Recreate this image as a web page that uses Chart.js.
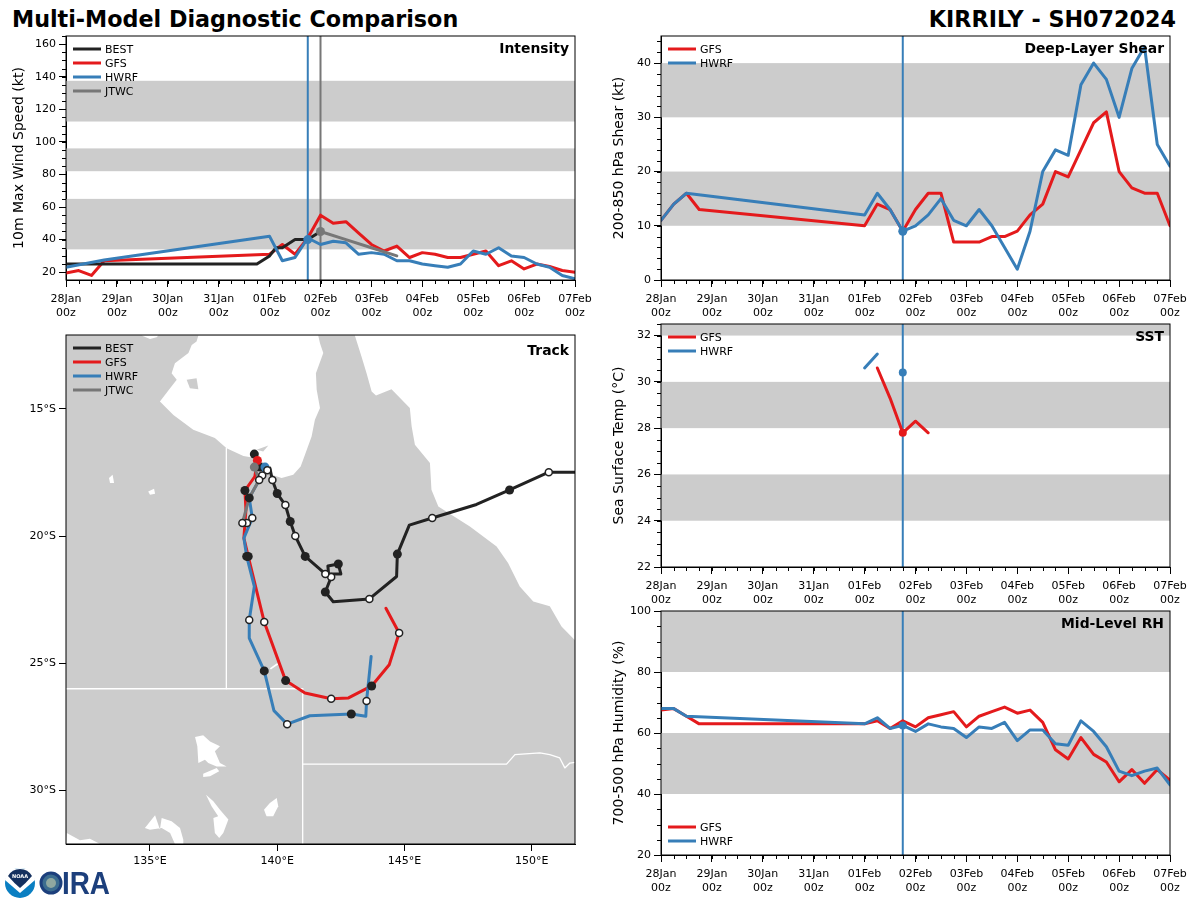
<!DOCTYPE html>
<html>
<head>
<meta charset="utf-8">
<title>Multi-Model Diagnostic Comparison</title>
<script src="https://cdn.jsdelivr.net/npm/chart.js@4"></script>
<style>
  body { margin: 0; background: #fff; width: 1200px; height: 900px; overflow: hidden; position: relative; font-family: "DejaVu Sans", sans-serif; }
  canvas { position: absolute; }
  .main-title { position: absolute; top: 6px; font-size: 22.25px; font-weight: bold; color: #000; white-space: nowrap; }
  #logo { position: absolute; left: 4px; top: 866px; }
</style>
</head>
<body>
<div class="main-title" style="left:12px">Multi-Model Diagnostic Comparison</div>
<div class="main-title" style="right:24px">KIRRILY - SH072024</div>

<canvas id="intensity-chart"></canvas>
<canvas id="shear-chart"></canvas>
<canvas id="track-chart"></canvas>
<canvas id="sst-chart"></canvas>
<canvas id="rh-chart"></canvas>

<svg id="logo" width="110" height="34" viewBox="0 0 110 34">
  <circle cx="16" cy="17" r="15" fill="#0a7fc2"/>
  <path d="M1 14 Q9 21 16 27 Q23 21 31 14 Q31 2 16 2 Q1 2 1 14Z" fill="#fff"/>
  <path d="M4 10 Q10 17 16 22 Q22 17 28 10 Q24 3 16 3 Q8 3 4 10Z" fill="#14305f"/>
  <text x="16" y="12" font-size="5" font-weight="bold" fill="#fff" text-anchor="middle">NOAA</text>
  <circle cx="47" cy="17" r="10" fill="#3c6d8f" stroke="#1c3f7c" stroke-width="3"/>
  <circle cx="47" cy="17" r="5" fill="#8fa8a0"/>
  <text x="58" y="28" font-family="Liberation Sans" font-size="31" font-weight="bold" fill="#1c3f7c" textLength="48" lengthAdjust="spacingAndGlyphs">IRA</text>
</svg>

<script>
// Time axis tick labels, one per day
const dayLabels = ["28Jan", "29Jan", "30Jan", "31Jan", "01Feb", "02Feb", "03Feb", "04Feb", "05Feb", "06Feb", "07Feb"];
const lonTicks = [135, 140, 145, 150];
const latTicks = [-30, -25, -20, -15];

// Intensity (hours since 28Jan 00z, knots)
const bestWindHours = [0, 90, 96, 99, 102, 108, 114, 120];
const bestWind = [25, 25, 30, 35, 35, 40, 40, 45];
const gfsWindHours = [0, 6, 12, 18, 96, 102, 108, 114, 120, 126, 132, 138, 144, 150, 156, 162, 168, 174, 180, 186, 192, 198, 204, 210, 216, 222, 228, 234, 240];
const gfsWind = [19.5, 21, 18, 27, 31, 37, 31, 41, 55, 50, 51, 44, 37, 33, 36, 29, 32, 31, 29, 29, 31, 33, 24, 27, 22, 25, 23.5, 21, 20];
const hwrfWindHours = [0, 18, 96, 102, 108, 114, 120, 126, 132, 138, 144, 150, 156, 162, 168, 174, 180, 186, 192, 198, 204, 210, 216, 222, 228, 234, 240];
const hwrfWind = [23, 27.5, 42, 27, 29, 41, 37, 39, 38, 31, 32, 31, 27, 27, 25, 24, 23, 25, 33, 31, 35, 30, 29, 25, 23, 18, 16];
const jtwcWindHours = [120, 132, 144, 156];
const jtwcWind = [45, 40, 35, 30];
const intensityBands = [[34, 65], [82, 96], [112.5, 137.5]];

// Deep-layer shear
const gfsShearHours = [0, 6, 12, 18, 96, 102, 108, 114, 120, 126, 132, 138, 144, 150, 156, 162, 168, 174, 180, 186, 192, 198, 204, 210, 216, 222, 228, 234, 240];
const gfsShear = [11, 14, 16, 13, 10, 14, 13, 9, 13, 16, 16, 7, 7, 7, 8, 8, 9, 12, 14, 20, 19, 24, 29, 31, 20, 17, 16, 16, 10];
const hwrfShearHours = [0, 6, 12, 96, 102, 108, 114, 120, 126, 132, 138, 144, 150, 156, 162, 168, 174, 180, 186, 192, 198, 204, 210, 216, 222, 228, 234, 240];
const hwrfShear = [11, 14, 16, 12, 16, 13, 9, 10, 12, 15, 11, 10, 13, 10, 6, 2, 9, 20, 24, 23, 36, 40, 37, 30, 39, 43, 25, 21];
const shearBands = [[10, 20], [30, 40]];

// Sea surface temperature
const gfsSstHours = [102, 108, 114, 120, 126];
const gfsSst = [30.6, 29.3, 27.8, 28.3, 27.8];
const hwrfSstHours = [96, 102];
const hwrfSst = [30.6, 31.2];
const sstBands = [[24, 26], [28, 30], [32, 33]];

// Mid-level relative humidity
const gfsRhHours = [0, 6, 12, 18, 96, 102, 108, 114, 120, 126, 132, 138, 144, 150, 156, 162, 168, 174, 180, 186, 192, 198, 204, 210, 216, 222, 228, 234, 240];
const gfsRh = [67.5, 68, 65.5, 63, 63, 64, 61.5, 64, 62, 65, 66, 67, 62, 65.5, 67, 68.5, 66.5, 67.5, 63.5, 54.5, 51.5, 58.5, 53, 50.5, 44, 48, 43.5, 48, 44.5];
const hwrfRhHours = [0, 6, 12, 96, 102, 108, 114, 120, 126, 132, 138, 144, 150, 156, 162, 168, 174, 180, 186, 192, 198, 204, 210, 216, 222, 228, 234, 240];
const hwrfRh = [68, 68, 65.5, 63, 65, 61.5, 62.5, 60.5, 63, 62, 61.5, 58.5, 62, 61.5, 63.5, 57.5, 61, 61, 56.5, 56, 64, 60.5, 55.5, 47.5, 46, 47.5, 48.5, 43];
const rhBands = [[40, 60], [80, 100]];

// Track paths (degrees)
const bestLon = [151.7, 150.67, 149.13, 147.83, 146.09, 145.19, 144.72, 144.69, 143.62, 142.2, 141.89, 142.12, 142.07, 142.5, 142.4, 141.99, 142.02, 141.89, 141.1, 140.71, 140.51, 140.32, 140.0, 139.81, 139.71, 139.61, 139.32, 139.1];
const bestLat = [-17.49, -17.49, -18.19, -18.76, -19.29, -19.57, -20.71, -21.59, -22.47, -22.58, -22.2, -21.61, -21.49, -21.49, -21.1, -21.18, -21.52, -21.49, -20.8, -20.0, -19.43, -18.78, -18.33, -17.8, -17.33, -17.41, -17.29, -16.78];
const gfsLon = [139.22, 139.12, 138.73, 138.77, 138.69, 138.86, 139.49, 140.33, 141.09, 142.12, 142.8, 143.71, 144.4, 144.79, 144.27];
const gfsLat = [-17.03, -17.66, -18.21, -18.97, -20.08, -20.8, -23.38, -25.68, -26.17, -26.39, -26.36, -25.89, -25.06, -23.81, -22.84];
const hwrfLon = [139.52, 139.41, 139.29, 138.9, 139.02, 138.69, 138.8, 139.1, 138.9, 138.9, 139.49, 139.87, 140.39, 141.28, 142.91, 143.48, 143.51, 143.69];
const hwrfLat = [-17.29, -17.62, -17.8, -18.5, -19.29, -20.08, -20.8, -21.98, -23.3, -24.01, -25.3, -26.86, -27.39, -27.06, -26.99, -27.08, -26.48, -24.73];
const jtwcLon = [139.1, 139.29, 138.9, 138.63];
const jtwcLat = [-17.29, -17.8, -18.5, -19.49];

// Track position markers (12-hourly, alternating dark and open)
const darkFixLon = [149.13, 144.72, 141.89, 142.4, 141.1, 140.51, 140.0, 139.32, 139.1, 138.73, 138.9, 138.86, 138.8, 140.33, 143.71, 139.49, 142.91];
const darkFixLat = [-18.19, -20.71, -22.2, -21.1, -20.8, -19.43, -18.33, -17.29, -16.78, -18.21, -18.5, -20.8, -20.8, -25.68, -25.89, -25.3, -26.99];
const openFixLon = [150.67, 146.09, 143.62, 142.12, 141.89, 140.71, 140.32, 139.81, 139.61, 139.41, 139.29, 138.81, 139.02, 138.63, 139.49, 138.9, 142.12, 144.79, 140.39, 143.51];
const openFixLat = [-17.49, -19.29, -22.47, -21.61, -21.49, -20.0, -18.78, -17.8, -17.41, -17.62, -17.8, -19.49, -19.29, -19.49, -23.38, -23.3, -26.39, -23.81, -27.39, -26.48];

// Map base: sea and lakes are white shapes laid over grey land
const gulfOutline = [[136.9, -12.12], [136.83, -12.36], [136.64, -12.49], [136.51, -12.81], [135.98, -13.21], [135.85, -13.6], [136.05, -13.86], [135.79, -14.19], [135.39, -14.71], [135.92, -15.24], [136.7, -15.82], [137.55, -16.15], [138.01, -16.55], [138.67, -16.85], [139.19, -16.94], [139.58, -17.2], [139.78, -17.59], [140.17, -17.72], [140.63, -17.59], [140.92, -17.27], [141.09, -16.81], [141.35, -16.09], [141.48, -15.43], [141.68, -14.97], [141.55, -14.25], [141.52, -13.6], [141.81, -12.81], [141.68, -12.42], [141.61, -12.12]];
const topBayOutline = [[134.67, -12.12], [135.0, -12.26], [135.26, -12.19], [135.33, -12.12]];
const coralSeaOutline = [[143.05, -12.12], [143.31, -12.94], [143.51, -13.6], [143.71, -14.32], [143.88, -14.48], [144.49, -14.23], [145.21, -14.97], [145.28, -15.69], [145.41, -16.41], [146.0, -17.13], [146.06, -18.18], [146.33, -18.84], [147.57, -19.62], [148.62, -20.41], [149.07, -21.06], [149.53, -21.98], [150.06, -22.57], [150.71, -22.76], [151.17, -23.55], [151.71, -24.1], [151.71, -12.12]];
const southCoastOutline = [[131.73, -31.67], [132.25, -31.95], [132.64, -31.89], [133.04, -32.1], [131.7, -32.1]];
const lakeOutlines = [
  [[136.77, -27.9], [137.09, -27.83], [137.36, -28.07], [137.75, -28.26], [137.55, -28.46], [137.75, -28.92], [138.01, -29.05], [137.62, -29.05], [137.29, -28.92], [137.16, -28.79], [136.9, -28.92], [136.86, -28.26]],
  [[137.09, -29.34], [137.62, -29.11], [137.72, -29.24], [137.36, -29.44], [137.09, -29.47]],
  [[137.2, -30.16], [137.49, -30.42], [137.75, -30.75], [138.08, -31.14], [137.88, -31.67], [137.72, -31.86], [137.55, -31.67], [137.49, -31.08], [137.68, -31.01], [137.42, -30.62]],
  [[139.98, -30.29], [140.04, -30.62], [139.84, -31.01], [139.58, -31.01], [139.48, -30.75], [139.71, -30.49]],
  [[134.8, -31.47], [135.2, -30.97], [135.39, -31.53], [135.46, -31.08], [135.85, -31.21], [136.18, -31.47], [136.31, -31.93], [136.31, -32.1], [135.98, -32.1], [135.79, -31.67], [135.46, -31.47], [135.0, -31.54]],
  [[133.39, -17.72], [133.53, -17.59], [133.59, -17.92], [133.43, -17.92]],
  [[134.93, -18.25], [135.16, -18.14], [135.2, -18.34], [135.0, -18.38]],
  [[139.71, -25.19], [140.0, -24.99], [140.04, -25.05], [139.75, -25.24]]
];
const islandOutlines = [
  [[136.44, -13.86], [136.83, -13.8], [136.9, -14.23], [136.57, -14.19]],
  [[139.19, -16.61], [139.65, -16.44], [139.45, -16.68]]
];
const stateBorders = [
  [[138.0, -16.55], [138.0, -26.0]],
  [[131.7, -26.0], [141.0, -26.0]],
  [[141.0, -26.0], [141.0, -32.1]],
  [[141.0, -28.96], [149.01, -28.96], [149.34, -28.59], [150.32, -28.52], [150.71, -28.59], [151.1, -28.72], [151.3, -29.11], [151.5, -28.92], [151.71, -28.89]]
];

const RED = "#e41a1c", BLUE = "#377eb8", BLACK = "#222222", GREY = "#777777", BAND = "#cccccc";

Chart.defaults.font.family = '"DejaVu Sans", sans-serif';
Chart.defaults.font.size = 11;
Chart.defaults.color = "#000";

function toPoints(xs, ys) {
    return xs.map((x, i) => ({ x: x, y: ys[i] }));
}

function pairsToPoints(pairs) {
    return pairs.map(p => ({ x: p[0], y: p[1] }));
}

function lineSet(label, color, data, width) {
    return { label: label, data: data, showLine: true, borderColor: color, backgroundColor: color, borderWidth: width || 3, pointRadius: 0, borderJoinStyle: "round", borderCapStyle: "round", tension: 0 };
}

function dotSet(color, data, radius, edge) {
    return { data: data, showLine: false, backgroundColor: color, borderColor: edge || color, borderWidth: edge ? 1.5 : 0, pointRadius: radius || 4.5 };
}

// Bands, minor ticks, frame, panel title and inset legend
const panelDecor = {
    id: "panelDecor",
    beforeDatasetsDraw(chart, args, opts) {
        const { ctx, chartArea: a, scales } = chart;
        ctx.save();
        ctx.beginPath();
        ctx.rect(a.left, a.top, a.right - a.left, a.bottom - a.top);
        ctx.clip();
        ctx.fillStyle = BAND;
        (opts.bands || []).forEach(b => {
            const top = scales.y.getPixelForValue(b[1]);
            const bottom = scales.y.getPixelForValue(b[0]);
            ctx.fillRect(a.left, top, a.right - a.left, bottom - top);
        });
        if (opts.map) {
            ctx.fillRect(a.left, a.top, a.right - a.left, a.bottom - a.top);
            const fillShape = (shape, color) => {
                ctx.fillStyle = color;
                ctx.beginPath();
                shape.forEach((p, i) => {
                    const px = scales.x.getPixelForValue(p[0]);
                    const py = scales.y.getPixelForValue(p[1]);
                    if (i === 0) ctx.moveTo(px, py); else ctx.lineTo(px, py);
                });
                ctx.closePath();
                ctx.fill();
            };
            [gulfOutline, topBayOutline, coralSeaOutline, southCoastOutline].concat(lakeOutlines).forEach(s => fillShape(s, "#fff"));
            islandOutlines.forEach(s => fillShape(s, BAND));
        }
        ctx.restore();
    },
    afterDatasetsDraw(chart, args, opts) {
        const { ctx, chartArea: a, scales } = chart;
        ctx.save();
        ctx.strokeStyle = "#000";
        ctx.lineWidth = 1;
        ctx.strokeRect(a.left, a.top, a.right - a.left, a.bottom - a.top);

        ctx.beginPath();
        if (opts.minorX) {
            for (let v = scales.x.min; v <= scales.x.max; v += opts.minorX) {
                const px = Math.round(scales.x.getPixelForValue(v)) + 0.5;
                ctx.moveTo(px, a.bottom);
                ctx.lineTo(px, a.bottom + 4);
            }
        }
        if (opts.minorY) {
            const start = Math.ceil(scales.y.min / opts.minorY) * opts.minorY;
            for (let v = start; v <= scales.y.max; v += opts.minorY) {
                const py = Math.round(scales.y.getPixelForValue(v)) + 0.5;
                ctx.moveTo(a.left, py);
                ctx.lineTo(a.left - 4, py);
            }
        }
        ctx.stroke();

        ctx.fillStyle = "#000";
        ctx.font = 'bold 13.9px "DejaVu Sans"';
        ctx.textAlign = "right";
        ctx.textBaseline = "middle";
        ctx.fillText(opts.title, a.right - 6, a.top + opts.titleY + 1);

        ctx.font = '11px "DejaVu Sans"';
        ctx.textAlign = "left";
        (opts.legend || []).forEach((item, i) => {
            const y = a.top + opts.legendY + i * 14;
            ctx.strokeStyle = item.color;
            ctx.lineWidth = 3;
            ctx.beginPath();
            ctx.moveTo(a.left + 7, y);
            ctx.lineTo(a.left + 35, y);
            ctx.stroke();
            ctx.fillStyle = "#000";
            ctx.fillText(item.label, a.left + 39, y + 1);
        });
        ctx.restore();
    }
};

function buildPanel(id, area, yLabel, yRange, yStep, xAxis, datasets, decor) {
    const canvas = document.getElementById(id);
    const canvasLeft = area.left < 600 ? 0 : 600;
    const padTop = 16, xAxisHeight = 52;
    canvas.width = 600;
    canvas.height = area.bottom - area.top + padTop + xAxisHeight;
    canvas.style.left = canvasLeft + "px";
    canvas.style.top = (area.top - padTop) + "px";

    const axisLines = {
        display: true, drawOnChartArea: false, drawTicks: true, tickLength: 7, tickColor: "#000", color: "#000"
    };

    return new Chart(canvas, {
        type: "scatter",
        data: { datasets: datasets.slice().reverse() },
        plugins: [panelDecor],
        options: {
            responsive: false,
            animation: false,
            layout: { padding: { top: padTop, right: canvasLeft + 600 - area.right, left: 0, bottom: 0 } },
            plugins: { legend: { display: false }, tooltip: { enabled: false }, panelDecor: decor },
            scales: {
                x: Object.assign({
                    type: "linear",
                    grid: axisLines,
                    border: { display: true, color: "#000", width: 1 },
                    afterFit(scale) { scale.height = xAxisHeight; }
                }, xAxis),
                y: {
                    type: "linear",
                    min: yRange[0],
                    max: yRange[1],
                    grid: axisLines,
                    border: { display: true, color: "#000", width: 1 },
                    afterBuildTicks(scale) {
                        if (yLabel.tickValues) scale.ticks = yLabel.tickValues.map(v => ({ value: v }));
                    },
                    ticks: {
                        stepSize: yStep,
                        includeBounds: false,
                        padding: 3,
                        callback: yLabel.tickFormat || (v => String(v))
                    },
                    title: { display: !!yLabel.text, text: yLabel.text, font: { size: 14 }, padding: { top: 11, bottom: 0 }, color: "#000" },
                    afterFit(scale) { scale.width = area.left - canvasLeft; }
                }
            }
        }
    });
}

const timeAxis = {
    min: 0,
    max: 240,
    ticks: {
        stepSize: 24,
        includeBounds: false,
        autoSkip: false,
        maxRotation: 0,
        padding: 5,
        font: { size: 11, lineHeight: 1.3 },
        callback: v => [dayLabels[v / 24], "00z"]
    }
};

function verticalMark(color, hour, range) {
    return lineSet("", color, toPoints([hour, hour], range), 2);
}

buildPanel("intensity-chart", { left: 66, top: 36, right: 575, bottom: 280 },
    { text: "10m Max Wind Speed (kt)" }, [15.2, 165], 20, timeAxis, [
        verticalMark(BLUE, 114, [15.2, 165]),
        verticalMark(GREY, 120, [15.2, 165]),
        lineSet("GFS", RED, toPoints(gfsWindHours, gfsWind)),
        lineSet("BEST", BLACK, toPoints(bestWindHours, bestWind)),
        lineSet("HWRF", BLUE, toPoints(hwrfWindHours, hwrfWind)),
        lineSet("JTWC", GREY, toPoints(jtwcWindHours, jtwcWind)),
        dotSet(BLUE, toPoints([114], [40])),
        dotSet(GREY, toPoints([120], [45]))
    ], {
        bands: intensityBands, minorX: 6, minorY: 5, title: "Intensity", titleY: 12, legendY: 13,
        legend: [{ label: "BEST", color: BLACK }, { label: "GFS", color: RED }, { label: "HWRF", color: BLUE }, { label: "JTWC", color: GREY }]
    });

buildPanel("shear-chart", { left: 661, top: 36, right: 1170, bottom: 280 },
    { text: "200-850 hPa Shear (kt)" }, [0, 45], 10, timeAxis, [
        verticalMark(BLUE, 114, [0, 45]),
        lineSet("GFS", RED, toPoints(gfsShearHours, gfsShear)),
        lineSet("HWRF", BLUE, toPoints(hwrfShearHours, hwrfShear)),
        dotSet(BLUE, toPoints([114], [9]))
    ], {
        bands: shearBands, minorX: 6, minorY: 2, title: "Deep-Layer Shear", titleY: 12, legendY: 13,
        legend: [{ label: "GFS", color: RED }, { label: "HWRF", color: BLUE }]
    });

buildPanel("sst-chart", { left: 661, top: 324, right: 1170, bottom: 567 },
    { text: "Sea Surface Temp (°C)" }, [22, 32.5], 2, timeAxis, [
        verticalMark(BLUE, 114, [22, 32.5]),
        lineSet("GFS", RED, toPoints(gfsSstHours, gfsSst)),
        lineSet("HWRF", BLUE, toPoints(hwrfSstHours, hwrfSst)),
        dotSet(RED, toPoints([114], [27.8]), 4),
        dotSet(BLUE, toPoints([114], [30.4]), 4)
    ], {
        bands: sstBands, minorX: 6, minorY: 0.5, title: "SST", titleY: 12, legendY: 13,
        legend: [{ label: "GFS", color: RED }, { label: "HWRF", color: BLUE }]
    });

buildPanel("rh-chart", { left: 661, top: 611, right: 1170, bottom: 855 },
    { text: "700-500 hPa Humidity (%)" }, [20, 100], 20, timeAxis, [
        verticalMark(BLUE, 114, [20, 100]),
        lineSet("GFS", RED, toPoints(gfsRhHours, gfsRh)),
        lineSet("HWRF", BLUE, toPoints(hwrfRhHours, hwrfRh)),
        dotSet(BLUE, toPoints([114], [62.5]), 4)
    ], {
        bands: rhBands, minorX: 6, minorY: 5, title: "Mid-Level RH", titleY: 12, legendY: 216,
        legend: [{ label: "GFS", color: RED }, { label: "HWRF", color: BLUE }]
    });

buildPanel("track-chart", { left: 66, top: 335, right: 575, bottom: 844 },
    { text: "", tickValues: latTicks, tickFormat: v => Math.abs(v) + "°S" }, [-32.1, -12.1], 5, {
        min: 131.7,
        max: 151.7,
        afterBuildTicks(scale) { scale.ticks = lonTicks.map(v => ({ value: v })); },
        ticks: { stepSize: 5, includeBounds: false, autoSkip: false, maxRotation: 0, padding: 4, callback: v => v + "°E" }
    }, stateBorders.map(b => lineSet("", "#fff", pairsToPoints(b), 1.3)).concat([
        lineSet("GFS", RED, toPoints(gfsLon, gfsLat)),
        lineSet("HWRF", BLUE, toPoints(hwrfLon, hwrfLat)),
        lineSet("JTWC", GREY, toPoints(jtwcLon, jtwcLat)),
        lineSet("BEST", BLACK, toPoints(bestLon, bestLat)),
        dotSet(BLACK, toPoints(darkFixLon, darkFixLat)),
        dotSet(RED, toPoints([139.22], [-17.03])),
        dotSet(BLUE, toPoints([139.52], [-17.29])),
        dotSet("#fff", toPoints(openFixLon, openFixLat), 3.5, BLACK),
        dotSet(GREY, toPoints([139.1], [-17.29]))
    ]), {
        map: true, title: "Track", titleY: 15, legendY: 13,
        legend: [{ label: "BEST", color: BLACK }, { label: "GFS", color: RED }, { label: "HWRF", color: BLUE }, { label: "JTWC", color: GREY }]
    });
</script>
</body>
</html>
